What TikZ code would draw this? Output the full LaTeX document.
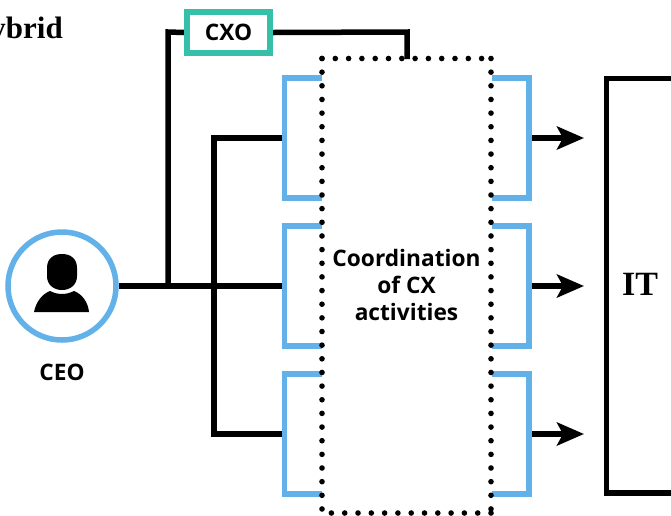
\documentclass[tikz,border=0pt]{standalone}
\usepackage{fontspec}
\setmainfont{Open Sans}
\newfontfamily\titlefont{Liberation Serif}
\usetikzlibrary{arrows.meta}
\definecolor{bracketblue}{HTML}{62B1E8}
\definecolor{cxogreen}{HTML}{36BFA9}
\tikzset{
  wire/.style={draw=black,line width=5.5pt},
  flow/.style={wire,-{Stealth[length=27pt,width=23pt,inset=6pt]},shorten >=0pt},
  bracketline/.style={draw=bracketblue,line width=5.2pt},
  dotline/.style={draw=black,line width=5.6pt,line cap=round,dash pattern=on 0pt off 13.65pt},
  dotrow/.style={dotline,dash pattern=on 0pt off 13.3pt},
  lbl/.style={font=\bfseries\fontsize{22.7}{27}\selectfont,align=center,text=black,inner sep=0pt},
  serif/.style={font=\titlefont\bfseries\fontsize{34}{36}\selectfont,text=black,inner sep=0pt}
}
\begin{document}
\begin{tikzpicture}[x=1pt,y=-1pt]
\useasboundingbox (0,0) rectangle (671,515);
% CEO
\node[circle,draw=bracketblue,line width=5.5pt,minimum size=108pt,inner sep=0pt] (ceo) at (62,286) {};
\node[lbl] (ceolabel) at (62,372) {CEO};
\fill[black] (47,268) .. controls (47,258) and (54,254) .. (62,254) .. controls (70,254) and (77,258) .. (77,268) -- (77,276) .. controls (77,285) and (70,290) .. (62,290) .. controls (54,290) and (47,285) .. (47,276) -- cycle;
\fill[black] (34,312) .. controls (36,302) and (42,294) .. (50,291) .. controls (54,293) and (58,294) .. (62,294) .. controls (66,294) and (70,293) .. (74,291) .. controls (82,294) and (88,302) .. (89,312) -- cycle;
% CXO
\node[draw=cxogreen,line width=5.8pt,minimum width=83.5pt,minimum height=41.5pt,inner sep=0pt,lbl] (cxo) at (228.5,32.5) {CXO};
% anchors
\coordinate (junctionA) at (168,286);
\coordinate (junctionB) at (214,286);
\coordinate (cxoL) at (168,32);
\coordinate (cxoR) at (407,32);
\coordinate (cxoEnd) at (407,59);
\coordinate (topIn) at (285,138);
\coordinate (midIn) at (285,286);
\coordinate (lowIn) at (285,434);
\coordinate (branchT) at (214,138);
\coordinate (branchB) at (214,434);
\coordinate (topOut) at (529,138);
\coordinate (midOut) at (529,286);
\coordinate (lowOut) at (529,434);
\coordinate (topTip) at (584,138);
\coordinate (midTip) at (584,286);
\coordinate (lowTip) at (584,434);
% connectors
\draw[wire] (ceo.east) -- (midIn);
\draw[wire] (junctionA) -- (cxoL) -- (cxo.west);
\draw[wire] (cxo.east) -- (cxoR) -- (cxoEnd);
\draw[wire] (topIn) -- (branchT) -- (branchB) -- (lowIn);
\draw[flow] (topOut) -- (topTip);
\draw[flow] (midOut) -- (midTip);
\draw[flow] (lowOut) -- (lowTip);
% brackets
\foreach \t/\b in {78/198,226/346,374/494}{
  \draw[bracketline] (322,\t) -- (284.5,\t) -- (284.5,\b) -- (322,\b);
  \draw[bracketline] (492,\t) -- (529,\t) -- (529,\b) -- (492,\b);
}
% dotted box
\draw[dotline] (322,58.5) -- (322,515);
\draw[dotline] (491,58.5) -- (491,515);
\draw[dotrow] (322,58.5) -- (491,58.5);
\draw[dotrow] (491,513) -- (322,513);
\node[lbl] (coord) at (406.5,285) {Coordination\\of CX\\activities};
% IT
\draw[wire] (671,78.5) -- (606.5,78.5) -- (606.5,493) -- (671,493);
\node[serif,anchor=base] (it) at (640,295) {IT};
\node[serif,anchor=base east,font=\titlefont\bfseries\fontsize{31}{34}\selectfont] (title) at (63,38) {Hybrid};
\end{tikzpicture}
\end{document}
